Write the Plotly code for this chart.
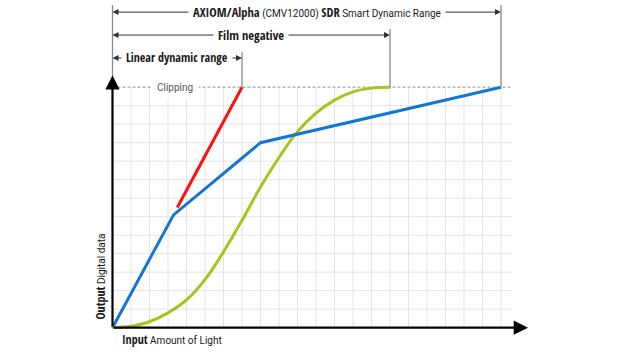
import plotly.graph_objects as go

# ---- data (grid units) ----
linear_x = [3.5, 7]
linear_y = [6.5, 13]
sdr_x = [0, 3.3, 8, 21]
sdr_y = [0, 6.1, 10, 13]
film_x = [0, 1, 2, 3, 4, 5, 6, 7, 8, 9, 10, 11, 12, 13, 14, 15]
film_y = [0, 0.08, 0.32, 0.8, 1.5, 2.6, 4.1, 5.8, 7.6, 9.2, 10.6, 11.6, 12.3, 12.75, 12.95, 13]
clip_level = 13
range_ends = {"linear": 7, "film": 15, "sdr": 21}
grid_x = list(range(1, 22))
grid_y = list(range(1, 13))

REG = "Roboto"
GRID = "#e4e4e4"
BAR = "#8a8a8a"

def B(s, size=12.5):
    return ('<span style="font-family:Open Sans Condensed;font-weight:bold;font-size:%spx">%s</span>'
            % (size, s))

fig = go.Figure()

shapes = []
for gx in grid_x:
    shapes.append(dict(type="line", x0=gx, x1=gx, y0=0, y1=clip_level,
                       line=dict(color=GRID, width=1), layer="below"))
for gy in grid_y:
    shapes.append(dict(type="line", x0=0, x1=21.6, y0=gy, y1=gy,
                       line=dict(color=GRID, width=1), layer="below"))
shapes.append(dict(type="line", x0=0, x1=21.6, y0=clip_level, y1=clip_level,
                   line=dict(color="#b5b5b5", width=1.5, dash="3px,2px"), layer="below"))
shapes.append(dict(type="line", x0=0, x1=0, y0=13.6, y1=17.44, line=dict(color=BAR, width=1.3)))
shapes.append(dict(type="line", x0=range_ends["sdr"], x1=range_ends["sdr"], y0=clip_level, y1=17.44, line=dict(color=BAR, width=1.3)))
shapes.append(dict(type="line", x0=range_ends["film"], x1=range_ends["film"], y0=clip_level, y1=16.15, line=dict(color=BAR, width=1.3)))
shapes.append(dict(type="line", x0=range_ends["linear"], x1=range_ends["linear"], y0=clip_level, y1=14.9, line=dict(color=BAR, width=1.3)))

fig.add_trace(go.Scatter(x=film_x, y=film_y, mode="lines", line=dict(color="#a3c61c", width=3, shape="spline"), hoverinfo="skip"))
fig.add_trace(go.Scatter(x=linear_x, y=linear_y, mode="lines", line=dict(color="#ff1010", width=3), hoverinfo="skip"))
fig.add_trace(go.Scatter(x=sdr_x, y=sdr_y, mode="lines", line=dict(color="#1376d0", width=3), hoverinfo="skip"))

ann = []
def arrow(x_head, y_head, x_tail, y_tail, color, width, size, head=2):
    ann.append(dict(x=x_head, y=y_head, ax=x_tail, ay=y_tail, xref="x", yref="y",
                    axref="x", ayref="y", text="", showarrow=True, arrowhead=head,
                    arrowsize=size, arrowwidth=width, arrowcolor=color))

arrow(22.46, 0, 0, 0, "black", 2.2, 1.3)
arrow(0, 13.65, 0, 0, "black", 2.2, 1.3)

ry = {"sdr": 17.06, "film": 15.82, "linear": 14.58}
cx = {"sdr": 11.08, "film": 7.5, "linear": 3.5}
arrow(0, ry["sdr"], cx["sdr"], ry["sdr"], "#333", 1, 1.2, 2)
arrow(21, ry["sdr"], cx["sdr"], ry["sdr"], "#333", 1, 1.2, 2)
arrow(0, ry["film"], cx["film"], ry["film"], "#333", 1, 1.2, 2)
arrow(15, ry["film"], cx["film"], ry["film"], "#333", 1, 1.2, 2)
arrow(0, ry["linear"], cx["linear"], ry["linear"], "#333", 1, 1.2, 2)
arrow(7, ry["linear"], cx["linear"], ry["linear"], "#333", 1, 1.2, 2)

def text(x, y, t, size, color="#1a1a1a", xanchor="center", angle=0, pad=4):
    ann.append(dict(x=x, y=y, xref="x", yref="y", text=t, showarrow=False, xanchor=xanchor,
                    yanchor="middle", textangle=angle, bgcolor="white", borderpad=pad,
                    font=dict(family=REG, size=size, color=color)))

text(cx["sdr"], ry["sdr"], B("AXIOM/Alpha") + " (CMV12000) " + B("SDR") + " Smart Dynamic Range", 10)
text(cx["film"], ry["film"], B("Film negative"), 10)
text(cx["linear"], ry["linear"], B("Linear dynamic range", 12), 10)
text(3.4, clip_level, "Clipping", 10, color="#555", pad=5)
text(0.45, -0.66, B("Input", 12) + " Amount of Light", 10, xanchor="left", pad=0)
text(-0.7, 2.74, B("Output", 12) + " Digital data", 10, angle=-90, pad=0)

fig.update_layout(
    width=625, height=352, margin=dict(l=0, r=0, t=0, b=0),
    paper_bgcolor="white", plot_bgcolor="white", showlegend=False,
    shapes=shapes, annotations=ann,
    xaxis=dict(range=[-6.081, 27.703], visible=False, fixedrange=True),
    yaxis=dict(range=[-1.314, 17.714], visible=False, fixedrange=True),
)
fig.write_html("out.html")
